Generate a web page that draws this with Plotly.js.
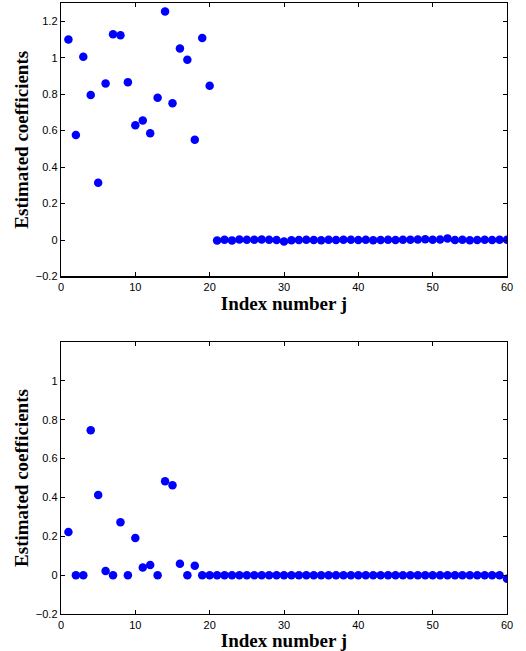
<!DOCTYPE html>
<html>
<head>
<meta charset="utf-8">
<script src="https://cdn.plot.ly/plotly-3.0.1.min.js"></script>
<style>html,body{margin:0;padding:0;background:#fff;}#chart{width:526px;height:651px;}</style>
</head>
<body>
<div id="chart"></div>
<script>
// Index numbers j = 1..60
const indexNumbers = Array.from({length: 60}, (_, i) => i + 1);

// Top panel: estimated coefficients
const topCoefficients = [
  1.10, 0.576, 1.005, 0.796, 0.314, 0.859, 1.128, 1.123, 0.866, 0.629,
  0.655, 0.585, 0.780, 1.253, 0.750, 1.051, 0.989, 0.550, 1.108, 0.846,
  -0.003, 0.002, -0.002, 0.003, 0.001, 0.002, 0.003, 0.001, 0.000, -0.008,
  -0.001, 0.000, 0.001, 0.000, -0.001, 0.001, 0.000, 0.002, 0.001, 0.000,
  0.001, -0.001, 0.000, 0.001, 0.000, 0.002, 0.001, 0.003, 0.004, 0.002,
  0.003, 0.009, 0.000, 0.001, -0.001, 0.000, 0.001, 0.000, 0.001, 0.002
];

// Bottom panel: estimated coefficients
const bottomCoefficients = [
  0.222, 0.000, 0.000, 0.746, 0.413, 0.021, 0.000, 0.272, 0.000, 0.191,
  0.040, 0.052, 0.000, 0.484, 0.463, 0.059, 0.000, 0.048, 0.000, 0.000,
  0.000, 0.000, 0.000, 0.000, 0.000, 0.000, 0.000, 0.000, 0.000, 0.000,
  0.000, 0.000, 0.000, 0.000, 0.000, 0.000, 0.000, 0.000, 0.000, 0.000,
  0.000, 0.000, 0.000, 0.000, 0.000, 0.000, 0.000, 0.000, 0.000, 0.000,
  0.000, 0.000, 0.000, 0.000, 0.000, 0.000, 0.000, 0.000, 0.000, -0.018
];

const xTickValues = [0, 10, 20, 30, 40, 50, 60];
const yTickValuesTop = [-0.2, 0, 0.2, 0.4, 0.6, 0.8, 1, 1.2];
const yTickTextTop = ['\u22120.2', '0', '0.2', '0.4', '0.6', '0.8', '1', '1.2'];
const yTickValuesBottom = [-0.2, 0, 0.2, 0.4, 0.6, 0.8, 1];
const yTickTextBottom = ['\u22120.2', '0', '0.2', '0.4', '0.6', '0.8', '1'];

const xLabel = 'Index number j';
const yLabel = 'Estimated coefficients';

const markerStyle = {color: '#0000ff', size: 8.5};
const tickFont = {family: 'Liberation Sans, Arial, sans-serif', size: 11, color: '#000'};
const titleFont = {family: 'Liberation Serif, Times New Roman, serif', size: 19, color: '#000', weight: 'bold'};

const traces = [
  {x: indexNumbers, y: topCoefficients, type: 'scatter', mode: 'markers', marker: markerStyle, xaxis: 'x', yaxis: 'y', hoverinfo: 'x+y'},
  {x: indexNumbers, y: bottomCoefficients, type: 'scatter', mode: 'markers', marker: markerStyle, xaxis: 'x2', yaxis: 'y2', hoverinfo: 'x+y'}
];

function xAxis(anchor) {
  return {
    anchor: anchor, domain: [0, 1], range: [0, 60],
    tickvals: xTickValues, ticks: 'inside', ticklen: 4, tickcolor: '#000', tickwidth: 1,
    showline: true, linecolor: '#000', linewidth: 1.3, mirror: 'allticks',
    showgrid: false, zeroline: false, tickfont: tickFont,
    title: {text: '<b>' + xLabel + '</b>', font: titleFont, standoff: 0}
  };
}
function yAxis(domain, anchor, range, vals, texts) {
  return {
    anchor: anchor, domain: domain, range: range,
    tickvals: vals, ticktext: texts, ticks: 'inside', ticklen: 4, tickcolor: '#000', tickwidth: 1,
    showline: true, linecolor: '#000', linewidth: 1.3, mirror: 'allticks',
    showgrid: false, zeroline: false, tickfont: tickFont,
    title: {text: '<b>' + yLabel + '</b>', font: titleFont, standoff: 2}
  };
}

const layout = {
  width: 526, height: 651,
  margin: {l: 60.5, r: 19, t: 3, b: 36.5},
  paper_bgcolor: '#fff', plot_bgcolor: '#fff',
  showlegend: false,
  xaxis: xAxis('y'),
  yaxis: yAxis([0.5524, 1], 'x', [-0.2, 1.3], yTickValuesTop, yTickTextTop),
  xaxis2: xAxis('y2'),
  yaxis2: yAxis([0, 0.4451], 'x2', [-0.2, 1.2], yTickValuesBottom, yTickTextBottom)
};

Plotly.newPlot('chart', traces, layout, {displayModeBar: false, staticPlot: true});
</script>
</body>
</html>
